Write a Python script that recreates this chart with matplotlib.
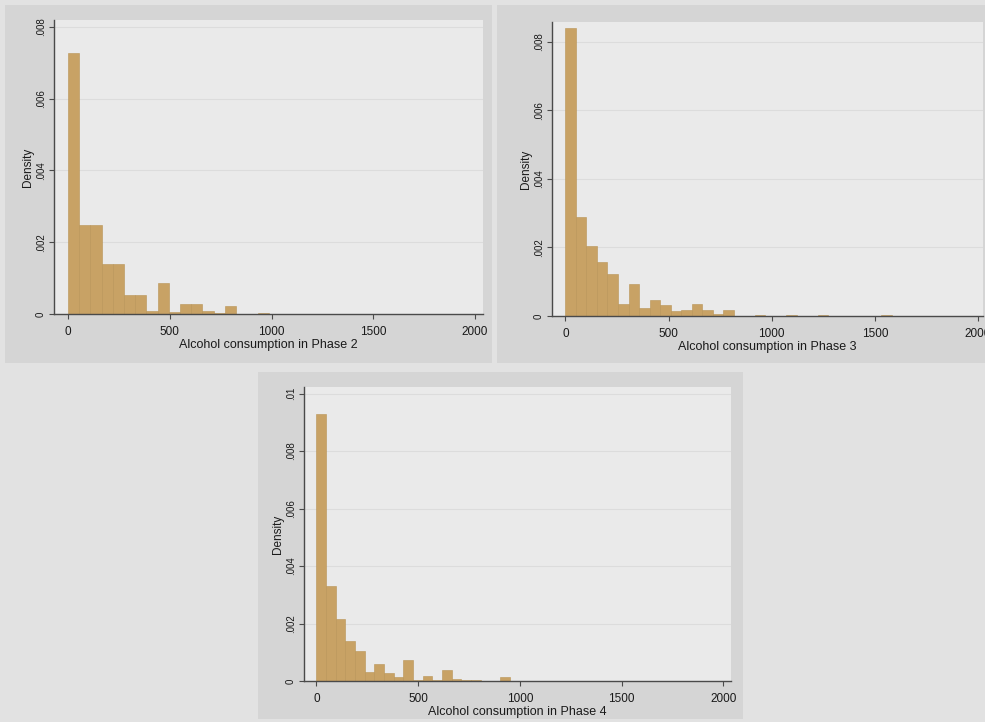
import numpy as np
import matplotlib.pyplot as plt
from matplotlib.patches import Rectangle

plt.rcParams['font.family'] = ['Liberation Sans', 'DejaVu Sans']

# bin widths (units of alcohol consumption)
width_p2 = 55
width_p3 = 51
width_p4 = 47.5

# densities per bin, starting at 0
dens_p2 = [.00727, .00247, .00247, .00140, .00140, .00052, .00052, .00007,
           .00086, .00006, .00028, .00028, .00007, .00002, .00021, .00001,
           .00001, .00003, .00001, 0, 0, 0, 0, 0, 0, 0, .00001, 0, 0, 0,
           .00001, .00001]
dens_p3 = [.00840, .00288, .00204, .00158, .00124, .00035, .00092, .00022,
           .00047, .00032, .00015, .00017, .00034, .00017, .00005, .00017,
           .00001, .00001, .00003, .00001, .00001, .00002, 0, 0, .00002,
           0, 0, 0, 0, 0, .00002]
dens_p4 = [.0093, .0033, .00214, .0014, .00104, .00032, .00058, .00029,
           .00013, .00073, .00003, .00017, .00003, .00038, .00006, .00002,
           .00003, .00001, .00001, .00015]

xticks = [0, 500, 1000, 1500, 2000]
yticks_a = [0, .002, .004, .006, .008]
ylabels_a = ["0", ".002", ".004", ".006", ".008"]
yticks_b = [0, .002, .004, .006, .008, .01]
ylabels_b = ["0", ".002", ".004", ".006", ".008", ".01"]

bar_color = "#c8a265"
edge_color = "#b99456"
axis_color = "#4a4a4a"
text_color = "#1a1a1a"

W, H = 985, 722
fig = plt.figure(figsize=(W / 100, H / 100), dpi=100)
fig.patch.set_facecolor("#e2e2e2")


def px_box(x0, y0, x1, y1):
    # pixel box (top-left origin) -> figure fraction [left, bottom, w, h]
    return [x0 / W, 1 - y1 / H, (x1 - x0) / W, (y1 - y0) / H]


def panel(outer, inner, dens, width, xlim, ylim, yticks, ylabels, phase):
    l, b, w, h = px_box(*outer)
    fig.patches.append(Rectangle((l, b), w, h, transform=fig.transFigure,
                                 facecolor="#d5d5d5", edgecolor="none", zorder=-1))
    ax = fig.add_axes(px_box(*inner))
    ax.set_facecolor("#eaeaea")
    edges = np.arange(len(dens)) * width
    ax.bar(edges, dens, width=width, align="edge", color=bar_color,
           edgecolor=edge_color, linewidth=0.4, zorder=2)
    ax.set_xlim(*xlim)
    ax.set_ylim(*ylim)
    ax.set_xticks(xticks)
    ax.set_yticks(yticks)
    ax.set_yticklabels(ylabels, rotation=90, va="center")
    for t in yticks[1:]:
        ax.axhline(t, color="#dcdcdc", linewidth=0.8, zorder=1)
    for s in ["top", "right"]:
        ax.spines[s].set_visible(False)
    for s in ["left", "bottom"]:
        ax.spines[s].set_color(axis_color)
        ax.spines[s].set_linewidth(1.0)
    ax.tick_params(axis="both", colors=axis_color, labelcolor=text_color,
                   length=3.5, width=0.8)
    ax.tick_params(axis="x", pad=5, labelsize=8.5)
    ax.tick_params(axis="y", pad=2.5, labelsize=7)
    ax.set_xlabel("Alcohol consumption in Phase %d" % phase, fontsize=9,
                  color=text_color, labelpad=1)
    ax.set_ylabel("Density", fontsize=8.5, color=text_color, labelpad=1)
    return ax


panel((5, 5, 492, 363), (54, 20, 483, 314), dens_p2, width_p2,
      (-68.8, 2039), (0, .00819), yticks_a, ylabels_a, 2)
panel((497, 5, 985, 363), (552, 22, 983, 316), dens_p3, width_p3,
      (-65, 2024), (0, .00858), yticks_a, ylabels_a, 3)
panel((258, 372, 743, 719), (304, 387, 731, 681), dens_p4, width_p4,
      (-61, 2038), (0, .01023), yticks_b, ylabels_b, 4)

fig.savefig("out.png", dpi=100, facecolor=fig.get_facecolor())
